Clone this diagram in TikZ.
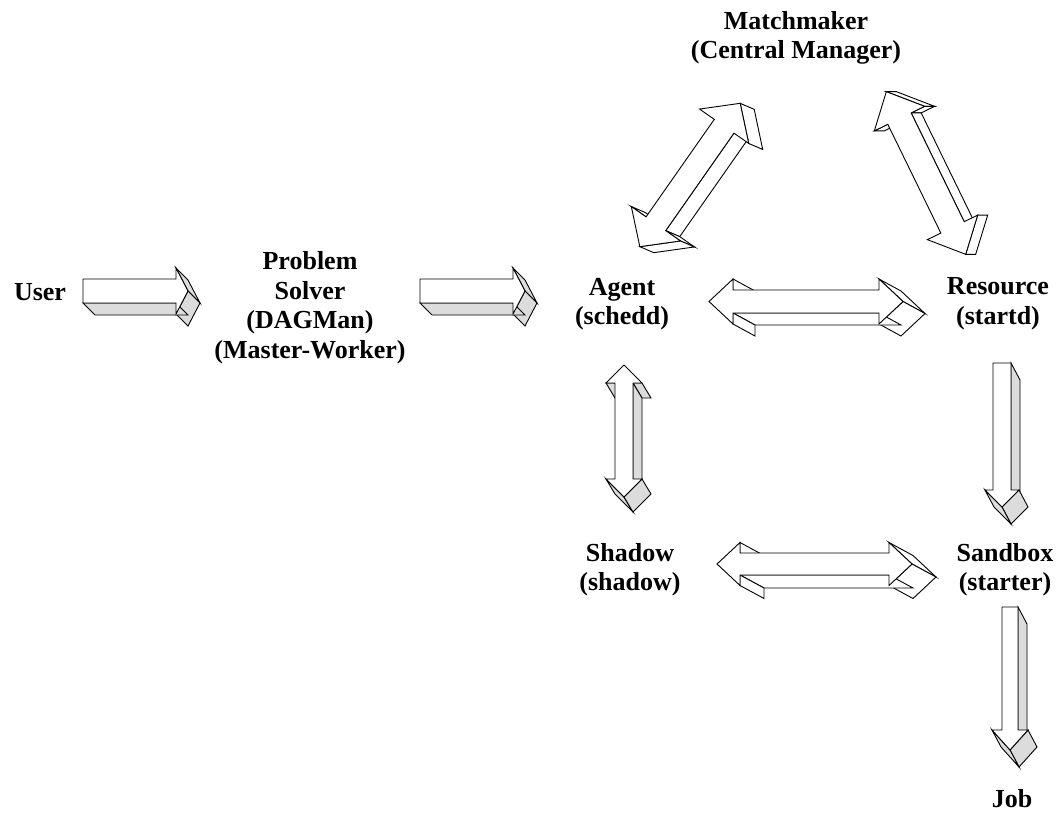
\documentclass[tikz,border=0pt]{standalone}
\usepackage{fontspec}
\setmainfont{Liberation Serif}
\definecolor{sidegray}{HTML}{DCDCDC}
\tikzset{
  label/.style={font=\fontsize{26}{29.5}\selectfont\bfseries, align=center, inner sep=0pt},
  arrowline/.style={draw=black, line width=0.9pt, line join=miter},
  side/.style={fill=sidegray}
}
% Extruded block: #1,#2 centre, #3 angle, #4,#5 depth offset,
% #6 outline as u/v pairs along the arrow axis (u) and across it (v).
% Only the side faces turned towards the depth offset are drawn,
% then the front face on top of them.
\newcommand\prism[6]{%
  \pgfmathsetmacro\prca{cos(#3)}%
  \pgfmathsetmacro\prsa{sin(#3)}%
  \foreach \u/\v [count=\n] in {#6} {%
    \pgfmathsetmacro\tx{#1+(\u)*\prca+(\v)*\prsa}%
    \pgfmathsetmacro\ty{#2-(\u)*\prsa+(\v)*\prca}%
    \pgfmathsetmacro\su{(\u)/10}%
    \pgfmathsetmacro\sv{(\v)/10}%
    \expandafter\xdef\csname prx\n\endcsname{\tx}%
    \expandafter\xdef\csname pry\n\endcsname{\ty}%
    \expandafter\xdef\csname pru\n\endcsname{\su}%
    \expandafter\xdef\csname prv\n\endcsname{\sv}%
    \coordinate (P\n) at (\tx,\ty);
    \coordinate (Q\n) at (\tx+#4,\ty+#5);
    \xdef\prn{\n}%
  }%
  \gdef\prarea{0}%
  \foreach \i in {1,...,\prn} {%
    \pgfmathtruncatemacro\j{mod(\i,\prn)+1}%
    \pgfmathsetmacro\tarea{\prarea+(\csname pru\i\endcsname)*(\csname prv\j\endcsname)-(\csname pru\j\endcsname)*(\csname prv\i\endcsname)}%
    \xdef\prarea{\tarea}%
  }%
  \foreach \i in {1,...,\prn} {%
    \pgfmathtruncatemacro\j{mod(\i,\prn)+1}%
    \pgfmathsetmacro\ex{(\csname prx\j\endcsname)-(\csname prx\i\endcsname)}%
    \pgfmathsetmacro\ey{(\csname pry\j\endcsname)-(\csname pry\i\endcsname)}%
    \pgfmathparse{((\prarea>0)?1:-1)*((\ey)*(#4)-(\ex)*(#5))}%
    \ifdim\pgfmathresult pt>0.01pt
      \filldraw[arrowline, side] (P\i) -- (P\j) -- (Q\j) -- (Q\i) -- cycle;
    \fi
  }%
  \filldraw[arrowline, fill=white] (P1) \foreach \k in {2,...,\prn} { -- (P\k) } -- cycle;
}
% single block arrow: centre, angle, length, half body width, half head width, head length, depth offset
\newcommand\singleblock[9]{%
  \pgfmathsetmacro\bl{#4/2}\pgfmathsetmacro\bn{#4/2-#7}%
  \prism{#1}{#2}{#3}{#8}{#9}{-\bl/-#5, \bn/-#5, \bn/-#6, \bl/0, \bn/#6, \bn/#5, -\bl/#5}}
% double block arrow, same arguments
\newcommand\doubleblock[9]{%
  \pgfmathsetmacro\bl{#4/2}\pgfmathsetmacro\bn{#4/2-#7}%
  \prism{#1}{#2}{#3}{#8}{#9}{-\bl/0, -\bn/-#6, -\bn/-#5, \bn/-#5, \bn/-#6, \bl/0, \bn/#6, \bn/#5, -\bn/#5, -\bn/#6}}
\begin{document}
\begin{tikzpicture}[x=1pt, y=-1pt]
\useasboundingbox[fill=white] (0,0) rectangle (1059,818);

% daemons and programs
\node[label] (user) at (40,292) {User};
\node[label] (solver) at (310,307.5) {Problem\\Solver\\(DAGMan)\\(Master-Worker)};
\node[label] (matchmaker) at (796,38) {Matchmaker\\(Central Manager)};
\node[label] (agent) at (622,304) {Agent\\(schedd)};
\node[label] (resource) at (998,304) {Resource\\(startd)};
\node[label] (shadow) at (630,569.5) {Shadow\\(shadow)};
\node[label] (sandbox) at (1005,569.5) {Sandbox\\(starter)};
\node[label] (job) at (1012,799) {Job};

% user -> problem solver -> agent
\singleblock{135.5}{291}{0}{105}{12}{23}{12}{12}{12}
\singleblock{472.5}{291}{0}{105}{12}{23}{12}{12}{12}

% agent <-> shadow
\doubleblock{624}{431}{90}{132}{9}{18}{18}{9}{15}

% resource -> sandbox -> job
\singleblock{1002}{435}{-90}{144}{9}{17}{17}{9}{17}
\singleblock{1010}{678.5}{-90}{143}{8}{18}{20}{9}{17}

\begin{scope}[side/.style={fill=white}]
  % agent <-> matchmaker <-> resource
  \doubleblock{690}{175}{55}{175}{12}{30}{28}{14}{6}
  \doubleblock{926}{173}{-64}{181}{13}{28}{30}{10}{0}
  % agent <-> resource, shadow <-> sandbox
  \doubleblock{806}{301.5}{0}{194}{11.5}{22.5}{24}{22}{12}
  \doubleblock{814.5}{564}{0}{195}{11}{21.5}{23}{24}{13}
\end{scope}
\end{tikzpicture}
\end{document}
